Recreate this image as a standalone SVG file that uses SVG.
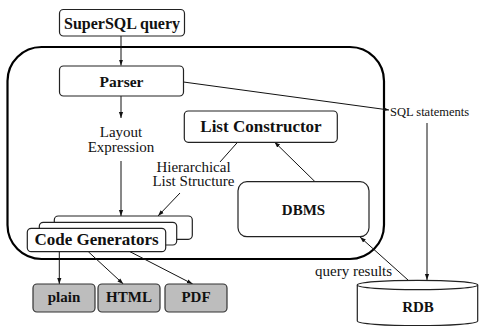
<svg xmlns="http://www.w3.org/2000/svg" width="482" height="326" viewBox="0 0 482 326">
<style>
.box{fill:#fff;stroke:#222;stroke-width:1.2}
.out{fill:#bdbdbd;stroke:#333;stroke-width:1.2}
.b{font-weight:bold;fill:#111;text-anchor:middle}
.r{font-size:15px;fill:#111}
.c{fill:none;stroke:#111;stroke-width:1}
</style>
<defs>
<marker id="ah" viewBox="0 0 10 10" refX="10" refY="5" markerWidth="6" markerHeight="6" orient="auto" markerUnits="userSpaceOnUse">
<path d="M0,1.5 L10,5 L0,8.5 z" fill="#111"/>
</marker>
</defs>
<rect x="7.5" y="47" width="376.5" height="212" rx="34" ry="34" fill="none" stroke="#000" stroke-width="2.2"/>
<g id="connectors">
<line class="c" x1="121" y1="36" x2="121" y2="65.5" marker-end="url(#ah)"/>
<line class="c" x1="121" y1="96" x2="121" y2="118" marker-end="url(#ah)"/>
<line class="c" x1="121" y1="161" x2="121" y2="216" marker-end="url(#ah)"/>
<line class="c" x1="183.5" y1="82" x2="389" y2="110" marker-end="url(#ah)"/>
<line class="c" x1="427" y1="123" x2="427" y2="280" marker-end="url(#ah)"/>
<line class="c" x1="408" y1="280" x2="360" y2="237" marker-end="url(#ah)"/>
<line class="c" x1="315" y1="181.7" x2="274.5" y2="142" marker-end="url(#ah)"/>
<line class="c" x1="237.5" y1="142.3" x2="220" y2="162"/>
<line class="c" x1="180" y1="193" x2="158" y2="216" marker-end="url(#ah)"/>
<line class="c" x1="59.3" y1="251.7" x2="59.3" y2="284" marker-end="url(#ah)"/>
<line class="c" x1="88.3" y1="251.7" x2="123.3" y2="284" marker-end="url(#ah)"/>
<line class="c" x1="130" y1="251.7" x2="192.7" y2="284" marker-end="url(#ah)"/>
</g>
<g font-family="Liberation Serif, DejaVu Serif, serif">
<g id="supersql">
<rect class="box" x="59.5" y="9.5" width="125" height="26.5" rx="4"/>
<text class="b" x="122" y="29" font-size="16">SuperSQL query</text>
</g>
<g id="parser">
<rect class="box" x="59.5" y="66" width="124" height="30" rx="4"/>
<text class="b" x="121.5" y="86.5" font-size="15.5">Parser</text>
</g>
<g id="layout">
<text class="r" x="121" y="136.6" text-anchor="middle">Layout</text>
<text class="r" x="121" y="151.5" text-anchor="middle">Expression</text>
</g>
<g id="listconstructor">
<rect class="box" x="184.3" y="111" width="153" height="31.3" rx="4"/>
<text class="b" x="261" y="132.3" font-size="17">List Constructor</text>
</g>
<g id="hier">
<text class="r" x="193.5" y="171.6" text-anchor="middle">Hierarchical</text>
<text class="r" x="193.5" y="186.3" text-anchor="middle">List Structure</text>
</g>
<g id="dbms">
<rect class="box" x="238" y="181.7" width="131" height="55" rx="9"/>
<text class="b" x="303.5" y="215" font-size="15">DBMS</text>
</g>
<g id="codegen">
<rect class="box" x="54.3" y="216" width="138" height="23.3" rx="4"/>
<rect class="box" x="39.3" y="222.3" width="137.4" height="22.7" rx="4"/>
<rect class="box" x="27.3" y="228.3" width="138.4" height="23.4" rx="4"/>
<text class="b" x="96.5" y="244.6" font-size="17">Code Generators</text>
</g>
<g id="sql">
<text class="r" x="390" y="115.5" font-size="12.5" style="font-size:12.5px">SQL statements</text>
</g>
<g id="qr">
<text class="r" x="315" y="275.5">query results</text>
</g>
<g id="rdb">
<path d="M357.3,285 L357.3,321 A60.2,4.7 0 0 0 477.7,321 L477.7,285" fill="#fff" stroke="#222" stroke-width="1.2"/>
<ellipse cx="417.5" cy="285" rx="60.2" ry="4.7" fill="#fff" stroke="#222" stroke-width="1.2"/>
<text class="b" x="418" y="312" font-size="15">RDB</text>
</g>
<g id="plain">
<rect class="out" x="33" y="284" width="62" height="28" rx="4"/>
<text class="b" x="64" y="301.7" font-size="15">plain</text>
</g>
<g id="html">
<rect class="out" x="98" y="284" width="62" height="28" rx="4"/>
<text class="b" x="129" y="301.7" font-size="15">HTML</text>
</g>
<g id="pdf">
<rect class="out" x="165" y="284" width="62" height="28" rx="4"/>
<text class="b" x="196" y="301.7" font-size="15">PDF</text>
</g>
</g>
</svg>
